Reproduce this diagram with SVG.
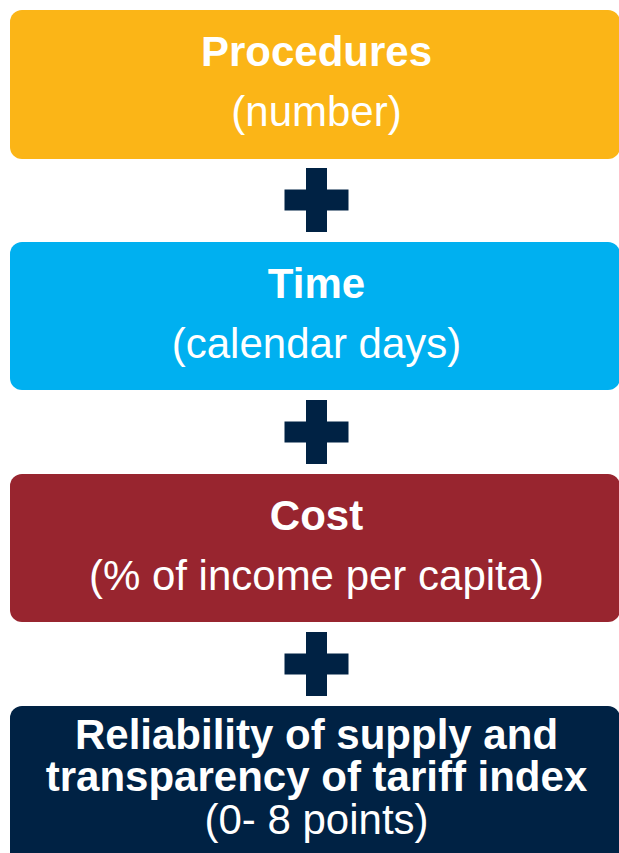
<svg xmlns="http://www.w3.org/2000/svg" xmlns:xlink="http://www.w3.org/1999/xlink" width="619" height="853" viewBox="0 0 619 853">
  <style>
    .box { rx: 12px; ry: 12px; }
    .t { font-family: "Liberation Sans", Arial, sans-serif; font-size: 42px; fill: #ffffff; text-anchor: middle; }
    .b { font-weight: bold; }
    .plus { fill: #002244; }
  </style>
  <defs>
    <path id="plus" d="M-10.5,-32 h21 v21.5 h21.5 v21 h-21.5 v21.5 h-21 v-21.5 h-21.5 v-21 h21.5 z"/>
  </defs>
  <rect width="619" height="853" fill="#ffffff"/>

  <g id="node-procedures">
    <rect class="box" x="10" y="10" width="610" height="149" fill="#FBB517"/>
    <text class="t b" x="316.5" y="66">Procedures</text>
    <text class="t" x="316.5" y="126">(number)</text>
  </g>

  <g id="node-time">
    <rect class="box" x="10" y="242" width="610" height="148" fill="#00B0F0"/>
    <text class="t b" x="316.5" y="298">Time</text>
    <text class="t" x="316.5" y="358">(calendar days)</text>
  </g>

  <g id="node-cost">
    <rect class="box" x="10" y="474" width="610" height="148" fill="#98252F"/>
    <text class="t b" x="316.5" y="530">Cost</text>
    <text class="t" x="316.5" y="590">(% of income per capita)</text>
  </g>

  <g id="node-reliability">
    <rect class="box" x="10" y="706" width="610" height="170" fill="#002244"/>
    <text class="t b" x="316.5" y="749">Reliability of supply and</text>
    <text class="t b" x="316.5" y="791">transparency of tariff index</text>
    <text class="t" x="316.5" y="834">(0- 8 points)</text>
  </g>

  <g id="connectors">
    <use class="plus" xlink:href="#plus" href="#plus" x="316.5" y="200"/>
    <use class="plus" xlink:href="#plus" href="#plus" x="316.5" y="432"/>
    <use class="plus" xlink:href="#plus" href="#plus" x="316.5" y="664"/>
  </g>
</svg>
